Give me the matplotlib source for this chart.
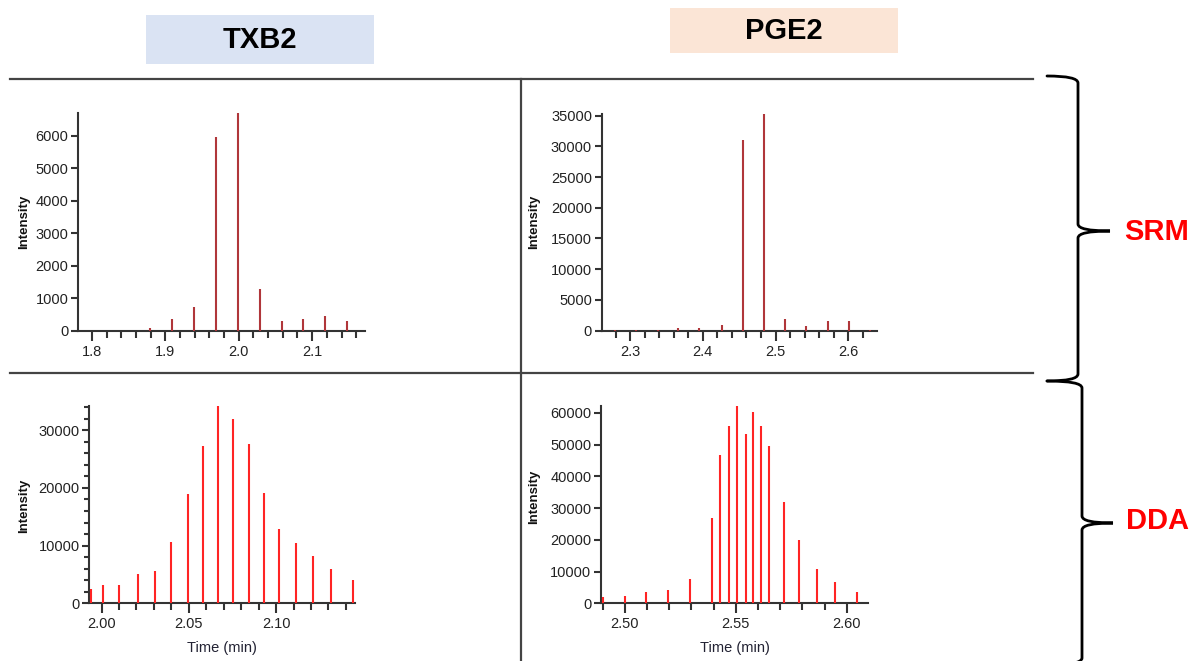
"""
SRM vs DDA chromatographic peaks for TXB2 and PGE2 (2x2 stick plots + labels/braces).
"""
import numpy as np
import matplotlib.pyplot as plt
from matplotlib.path import Path
from matplotlib.patches import PathPatch, Rectangle
from matplotlib.ticker import MultipleLocator

plt.rcParams["font.family"] = ["Liberation Sans", "DejaVu Sans"]

W, H = 1195, 661

# ---------- data (retention time in min, intensity) ----------
txb2_srm_t = [1.879, 1.909, 1.939, 1.969, 1.999, 2.029, 2.059, 2.088, 2.118, 2.148]
txb2_srm_i = [70, 350, 740, 5970, 6700, 1290, 300, 350, 450, 300]

pge2_srm_t = [2.279, 2.308, 2.338, 2.366, 2.395, 2.426, 2.455, 2.484, 2.513,
              2.542, 2.572, 2.601, 2.630]
pge2_srm_i = [100, 50, 100, 380, 380, 970, 31100, 35200, 1830, 700, 1620, 1620, 100]

txb2_dda_t = [1.9942, 2.0006, 2.0101, 2.0209, 2.0304, 2.0400, 2.0497, 2.0583, 2.0668,
              2.0755, 2.0843, 2.0930, 2.1015, 2.1112, 2.1209, 2.1313, 2.1442]
txb2_dda_i = [2480, 3170, 3170, 5080, 5650, 10680, 18870, 27240, 34160,
              31910, 27580, 19100, 12870, 10390, 8250, 6000, 4100]

pge2_dda_t = [2.4900, 2.5000, 2.5096, 2.5196, 2.5295, 2.5392, 2.5430, 2.5469, 2.5507,
              2.5545, 2.5576, 2.5612, 2.5651, 2.5719, 2.5787, 2.5864, 2.5945, 2.6046]
pge2_dda_i = [1890, 2310, 3570, 4090, 7560, 26970, 46700, 55820, 62120,
              53520, 60340, 55820, 49530, 31900, 19940, 10810, 6820, 3670]

compounds = ["TXB2", "PGE2"]
modes = ["SRM", "DDA"]

SRM_COL = "#b0363a"
DDA_COL = "#ff2424"
AX_COL = "#333333"

fig = plt.figure(figsize=(W / 100, H / 100), dpi=100)

# overlay axes in pixel coords (y down) for grid lines, header boxes, braces
ov = fig.add_axes([0, 0, 1, 1])
ov.set_xlim(0, W)
ov.set_ylim(H, 0)
ov.axis("off")


def px_rect(l, r, t, b):
    return [l / W, 1 - b / H, (r - l) / W, (b - t) / H]


# ---------- header boxes ----------
ov.add_patch(Rectangle((146, 15), 228, 49, color="#dae3f3", lw=0))
ov.add_patch(Rectangle((670, 8), 228, 45, color="#fbe5d6", lw=0))
ov.text(260, 40, compounds[0], ha="center", va="center", fontsize=21, fontweight="bold")
ov.text(784, 31, compounds[1], ha="center", va="center", fontsize=21, fontweight="bold")

# ---------- table grid ----------
ov.plot([10, 1033], [79, 79], color="#444444", lw=1.6)
ov.plot([10, 1033], [373, 373], color="#444444", lw=1.6)
ov.plot([521.5, 521.5], [79, H], color="#444444", lw=1.6)


def brace(x0, ytop, ybot, xv, ym, xtip, r=7):
    verts = [(x0, ytop), (xv, ytop), (xv, ytop + r),
             (xv, ym - r), (xv, ym), (xtip, ym),
             (xv, ym), (xv, ym + r),
             (xv, ybot - r), (xv, ybot), (x0, ybot)]
    codes = [Path.MOVETO, Path.CURVE3, Path.CURVE3,
             Path.LINETO, Path.CURVE3, Path.CURVE3,
             Path.CURVE3, Path.CURVE3,
             Path.LINETO, Path.CURVE3, Path.CURVE3]
    ov.add_patch(PathPatch(Path(verts, codes), fill=False, lw=2.0, color="black",
                           capstyle="round"))


brace(1047, 76, 381, 1078, 231, 1110)
brace(1047, 381, 665, 1082, 523, 1113)
ov.text(1124, 232, modes[0], ha="left", va="center", fontsize=21, fontweight="bold", color="#ff0000")
ov.text(1126, 521, modes[1], ha="left", va="center", fontsize=21, fontweight="bold", color="#ff0000")


# ---------- panels ----------
def panel(rect, t, i, col, xlim, ylim, xmaj, xmin, ymaj, ymin=None, xfmt="%.1f", ylab_px=None,
          xlabel=False):
    ax = fig.add_axes(px_rect(*rect))
    ax.set_facecolor("none")
    ax.vlines(t, 0, i, color=col, lw=1.5, zorder=3)
    ax.set_xlim(*xlim)
    ax.set_ylim(*ylim)
    for s in ["top", "right"]:
        ax.spines[s].set_visible(False)
    for s in ["left", "bottom"]:
        ax.spines[s].set_linewidth(1.5)
        ax.spines[s].set_color(AX_COL)
    ax.xaxis.set_major_locator(MultipleLocator(xmaj))
    ax.xaxis.set_minor_locator(MultipleLocator(xmin))
    ax.yaxis.set_major_locator(MultipleLocator(ymaj))
    if ymin:
        ax.yaxis.set_minor_locator(MultipleLocator(ymin))
    ax.xaxis.set_major_formatter(plt.FormatStrFormatter(xfmt))
    ax.tick_params(which="major", axis="x", length=7, width=1.5, color=AX_COL,
                   labelsize=10.5, labelcolor="#222222", pad=3)
    ax.tick_params(which="minor", axis="x", length=5, width=1.5, color=AX_COL)
    ax.tick_params(which="major", axis="y", length=5, width=1.5, color=AX_COL,
                   labelsize=10.5, labelcolor="#222222", pad=2)
    ax.tick_params(which="minor", axis="y", length=3.5, width=1.5, color=AX_COL)
    ov.text(ylab_px[0], ylab_px[1], "Intensity", rotation=90, ha="center", va="center",
            fontsize=9.5, fontweight="bold", color="#111111")
    if xlabel:
        ov.text((rect[0] + rect[1]) / 2 + 0, 648, "Time (min)", ha="center", va="center",
                fontsize=10.5, color="#222233")
    return ax


panel((78, 365, 113, 330.7), txb2_srm_t, txb2_srm_i, SRM_COL,
      (1.781, 2.172), (0, 6700), 0.1, 0.02, 1000, ylab_px=(24, 222))
panel((601.7, 876.7, 114.3, 330.7), pge2_srm_t, pge2_srm_i, SRM_COL,
      (2.261, 2.639), (0, 35200), 0.1, 0.02, 5000, ylab_px=(534, 222))
panel((89.3, 355, 406, 603.3), txb2_dda_t, txb2_dda_i, DDA_COL,
      (1.9930, 2.1452), (0, 34200), 0.05, 0.01, 10000, ymin=2000, xfmt="%.2f",
      ylab_px=(24, 506), xlabel=True)
panel((601, 868.3, 406, 603.3), pge2_dda_t, pge2_dda_i, DDA_COL,
      (2.4893, 2.6097), (0, 62200), 0.05, 0.01, 10000, xfmt="%.2f",
      ylab_px=(534, 497), xlabel=True)

fig.savefig("out.png", dpi=100)
